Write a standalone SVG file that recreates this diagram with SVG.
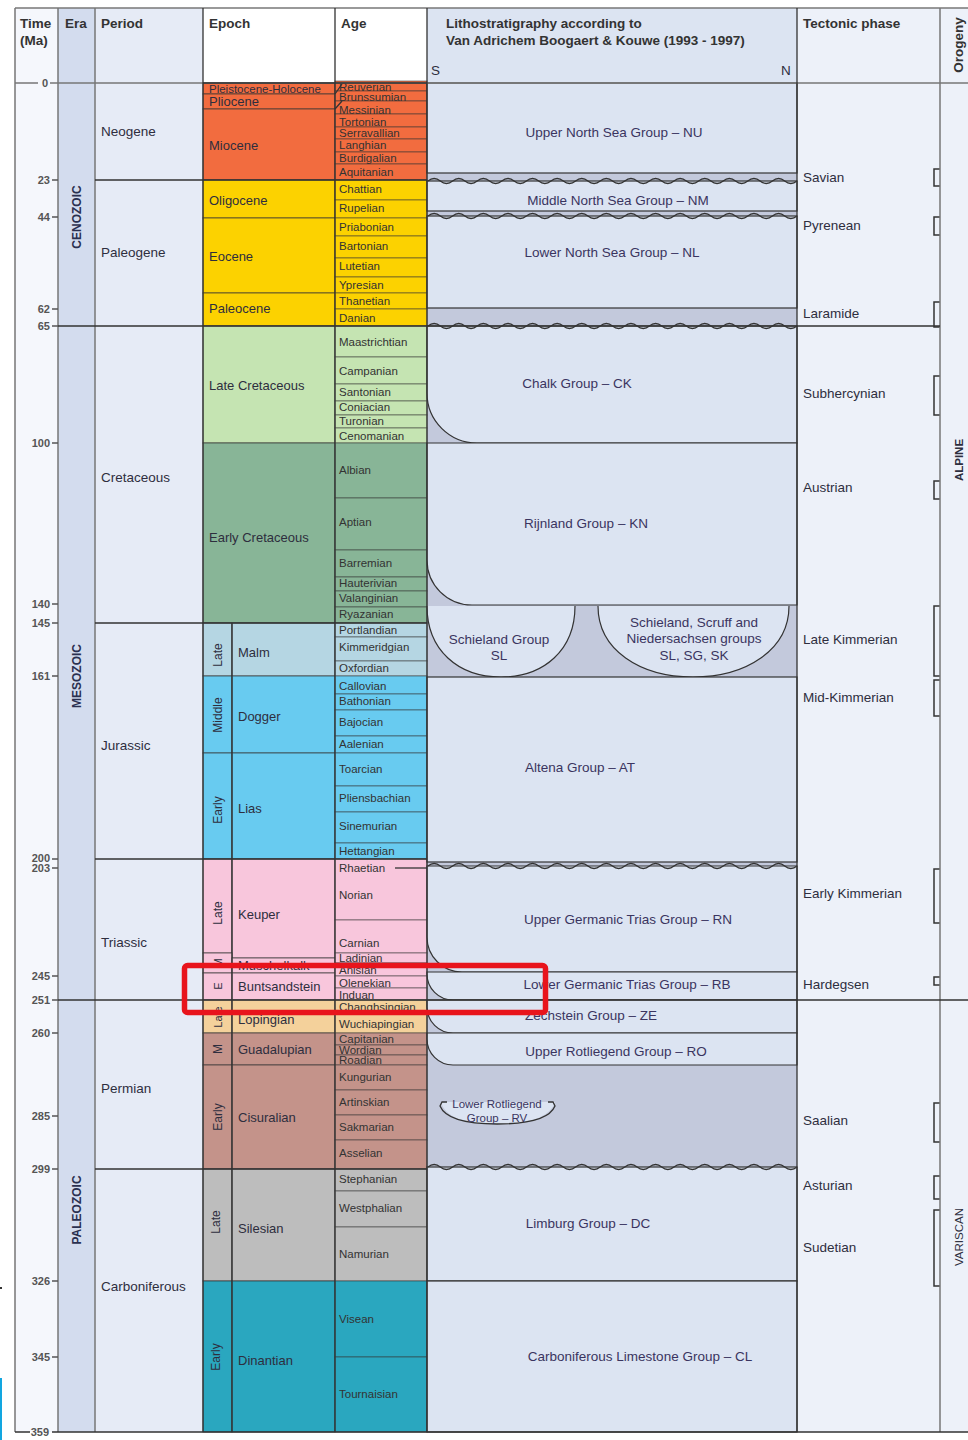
<svg xmlns="http://www.w3.org/2000/svg" width="968" height="1440" viewBox="0 0 968 1440">
<style>
text{font-family:"Liberation Sans",Arial,sans-serif;fill:#2e2e3e}
.h{font-weight:bold;font-size:13.5px;fill:#333}
.p{font-size:13.5px}
.e{font-size:13px}
.a{font-size:11.5px;fill:#333}
.l{font-size:13.5px;fill:#3a3460}
.t{font-size:13.5px}
.tk{font-size:11px;font-weight:bold;fill:#555;text-anchor:end}
.ra{font-size:12px;text-anchor:middle}
.era{font-size:12px;font-weight:bold;text-anchor:middle;fill:#2a3050}
.age{stroke:#333;stroke-opacity:0.55;stroke-width:1}
.ep{stroke:#333;stroke-opacity:0.7;stroke-width:1}
.br{fill:none;stroke:#333;stroke-width:1.5}
.wave{fill:none;stroke:#333;stroke-width:1.3}
.ln{stroke:#333;stroke-width:1.3;fill:none}
.gl{stroke:#777;stroke-width:1.5;fill:none}
.box{fill:#dce4f2;stroke:#333;stroke-width:1.2}
.c{text-anchor:middle}
</style>
<defs>
<path id="wv" d="M428,0 q6.15,-5 12.3,0 t12.3,0 t12.3,0 t12.3,0 t12.3,0 t12.3,0 t12.3,0 t12.3,0 t12.3,0 t12.3,0 t12.3,0 t12.3,0 t12.3,0 t12.3,0 t12.3,0 t12.3,0 t12.3,0 t12.3,0 t12.3,0 t12.3,0 t12.3,0 t12.3,0 t12.3,0 t12.3,0 t12.3,0 t12.3,0 t12.3,0 t12.3,0 t12.3,0 t12.3,0"/>
<clipPath id="muclip"><rect x="232" y="958" width="103" height="15"/></clipPath>
</defs>
<rect width="968" height="1440" fill="#fff"/>

<g id="columns">
<rect x="15" y="8" width="43" height="1424" fill="#f5f7fc"/>
<rect x="58" y="8" width="37" height="1424" fill="#d3dcee"/>
<rect x="95" y="8" width="108" height="1424" fill="#e6ebf6"/>
<rect x="203" y="8" width="224" height="75" fill="#fff"/>
<rect x="427" y="8" width="370" height="75" fill="#dce4f2"/>
<rect x="427" y="83" width="370" height="1349" fill="#c3c9dc"/>
<rect x="797" y="8" width="143" height="1424" fill="#edf1f9"/>
<rect x="940" y="8" width="28" height="1424" fill="#edf1f9"/>
</g>

<g id="header">
<text class="h" x="20" y="28">Time</text>
<text class="h" x="20" y="45">(Ma)</text>
<text class="h" x="65" y="28">Era</text>
<text class="h" x="101" y="28">Period</text>
<text class="h" x="209" y="28">Epoch</text>
<text class="h" x="341" y="28">Age</text>
<text class="h" x="446" y="28">Lithostratigraphy according to</text>
<text class="h" x="446" y="45">Van Adrichem Boogaert &amp; Kouwe (1993 - 1997)</text>
<text class="p" x="431" y="75">S</text>
<text class="p" x="781" y="75">N</text>
<text class="h" x="803" y="28">Tectonic phase</text>
<text class="h c" transform="translate(963,45) rotate(-90)">Orogeny</text>
</g>

<g id="era">
<text class="era" transform="translate(81,217) rotate(-90)">CENOZOIC</text>
<text class="era" transform="translate(81,676) rotate(-90)">MESOZOIC</text>
<text class="era" transform="translate(81,1210) rotate(-90)">PALEOZOIC</text>
</g>

<g id="periods">
<text class="p" x="101" y="136">Neogene</text>
<text class="p" x="101" y="257">Paleogene</text>
<text class="p" x="101" y="482">Cretaceous</text>
<text class="p" x="101" y="750">Jurassic</text>
<text class="p" x="101" y="947">Triassic</text>
<text class="p" x="101" y="1093">Permian</text>
<text class="p" x="101" y="1291">Carboniferous</text>
</g>

<g id="epochs">
<g id="ep-pleist"><rect class="ep" x="203" y="83" width="132" height="11" fill="#f26c3f"/><text x="209" y="93" style="font-size:11.5px">Pleistocene-Holocene</text></g>
<g id="ep-plio"><rect class="ep" x="203" y="94" width="132" height="15" fill="#f26c3f"/><text class="e" x="209" y="106">Pliocene</text></g>
<g id="ep-mio"><rect class="ep" x="203" y="109" width="132" height="71" fill="#f26c3f"/><text class="e" x="209" y="150">Miocene</text></g>
<g id="ep-oligo"><rect class="ep" x="203" y="180" width="132" height="38" fill="#fcd200"/><text class="e" x="209" y="205">Oligocene</text></g>
<g id="ep-eo"><rect class="ep" x="203" y="218" width="132" height="75" fill="#fcd200"/><text class="e" x="209" y="261">Eocene</text></g>
<g id="ep-paleo"><rect class="ep" x="203" y="293" width="132" height="33" fill="#fcd200"/><text class="e" x="209" y="313">Paleocene</text></g>
<g id="ep-latecret"><rect class="ep" x="203" y="326" width="132" height="117" fill="#c5e4b2"/><text class="e" x="209" y="390">Late Cretaceous</text></g>
<g id="ep-earlycret"><rect class="ep" x="203" y="443" width="132" height="180" fill="#88b597"/><text class="e" x="209" y="542">Early Cretaceous</text></g>
<g id="ep-malm"><rect class="ep" x="203" y="623" width="29" height="53" fill="#b5d6e3"/><rect class="ep" x="232" y="623" width="103" height="53" fill="#b5d6e3"/><text class="ra" transform="translate(222,655) rotate(-90)">Late</text><text class="e" x="238" y="657">Malm</text></g>
<g id="ep-dogger"><rect class="ep" x="203" y="676" width="29" height="77" fill="#68cbf0"/><rect class="ep" x="232" y="676" width="103" height="77" fill="#68cbf0"/><text class="ra" transform="translate(222,715) rotate(-90)">Middle</text><text class="e" x="238" y="721">Dogger</text></g>
<g id="ep-lias"><rect class="ep" x="203" y="753" width="29" height="106" fill="#68cbf0"/><rect class="ep" x="232" y="753" width="103" height="106" fill="#68cbf0"/><text class="ra" transform="translate(222,810) rotate(-90)">Early</text><text class="e" x="238" y="813">Lias</text></g>
<g id="ep-keuper"><rect class="ep" x="203" y="859" width="29" height="94" fill="#f8c6dc"/><rect class="ep" x="232" y="859" width="103" height="99" fill="#f8c6dc"/><text class="ra" transform="translate(222,913) rotate(-90)">Late</text><text class="e" x="238" y="919">Keuper</text></g>
<g id="ep-musch"><rect class="ep" x="203" y="953" width="29" height="20" fill="#f8c6dc"/><rect class="ep" x="232" y="958" width="103" height="15" fill="#f8c6dc"/><text class="ra" transform="translate(222,963) rotate(-90)" style="font-size:11px">M</text><text class="e" x="238" y="970" clip-path="url(#muclip)">Muschelkalk</text></g>
<g id="ep-bunt"><rect class="ep" x="203" y="973" width="29" height="27" fill="#f8c6dc"/><rect class="ep" x="232" y="973" width="103" height="27" fill="#f8c6dc"/><text class="ra" transform="translate(222,986) rotate(-90)" style="font-size:11px">E</text><text class="e" x="238" y="991">Buntsandstein</text></g>
<g id="ep-loping"><rect class="ep" x="203" y="1000" width="29" height="33" fill="#f4d19b"/><rect class="ep" x="232" y="1000" width="103" height="33" fill="#f4d19b"/><text class="ra" transform="translate(222,1017) rotate(-90)" style="font-size:11px">Late</text><text class="e" x="238" y="1024">Lopingian</text></g>
<g id="ep-guad"><rect class="ep" x="203" y="1033" width="29" height="32" fill="#c4938a"/><rect class="ep" x="232" y="1033" width="103" height="32" fill="#c4938a"/><text class="ra" transform="translate(222,1049) rotate(-90)">M</text><text class="e" x="238" y="1054">Guadalupian</text></g>
<g id="ep-cisu"><rect class="ep" x="203" y="1065" width="29" height="104" fill="#c4938a"/><rect class="ep" x="232" y="1065" width="103" height="104" fill="#c4938a"/><text class="ra" transform="translate(222,1117) rotate(-90)">Early</text><text class="e" x="238" y="1122">Cisuralian</text></g>
<g id="ep-siles"><rect class="ep" x="203" y="1169" width="29" height="112" fill="#bdbdbd"/><rect class="ep" x="232" y="1169" width="103" height="112" fill="#bdbdbd"/><text class="ra" transform="translate(220,1222) rotate(-90)">Late</text><text class="e" x="238" y="1233">Silesian</text></g>
<g id="ep-dinant"><rect class="ep" x="203" y="1281" width="29" height="151" fill="#2aa7bf"/><rect class="ep" x="232" y="1281" width="103" height="151" fill="#2aa7bf"/><text class="ra" transform="translate(220,1357) rotate(-90)">Early</text><text class="e" x="238" y="1365">Dinantian</text></g>
</g>

<g id="ages">
<g fill="#f26c3f">
<rect class="age" x="335" y="81" width="92" height="10"/><rect class="age" x="335" y="91" width="92" height="10"/><rect class="age" x="335" y="101" width="92" height="13"/><rect class="age" x="335" y="114" width="92" height="13"/><rect class="age" x="335" y="127" width="92" height="12"/><rect class="age" x="335" y="139" width="92" height="13"/><rect class="age" x="335" y="152" width="92" height="12"/><rect class="age" x="335" y="164" width="92" height="16"/>
</g>
<text class="a" x="339" y="91">Reuverian</text><text class="a" x="339" y="101">Brunssumian</text><text class="a" x="339" y="114">Messinian</text><text class="a" x="339" y="126">Tortonian</text><text class="a" x="339" y="137">Serravallian</text><text class="a" x="339" y="149">Langhian</text><text class="a" x="339" y="162">Burdigalian</text><text class="a" x="339" y="176">Aquitanian</text>
<g fill="#fcd200">
<rect class="age" x="335" y="180" width="92" height="20"/><rect class="age" x="335" y="200" width="92" height="18"/><rect class="age" x="335" y="218" width="92" height="18"/><rect class="age" x="335" y="236" width="92" height="22"/><rect class="age" x="335" y="258" width="92" height="19"/><rect class="age" x="335" y="277" width="92" height="16"/><rect class="age" x="335" y="293" width="92" height="16"/><rect class="age" x="335" y="309" width="92" height="17"/>
</g>
<text class="a" x="339" y="193">Chattian</text><text class="a" x="339" y="212">Rupelian</text><text class="a" x="339" y="231">Priabonian</text><text class="a" x="339" y="250">Bartonian</text><text class="a" x="339" y="270">Lutetian</text><text class="a" x="339" y="289">Ypresian</text><text class="a" x="339" y="305">Thanetian</text><text class="a" x="339" y="322">Danian</text>
<g fill="#c5e4b2">
<rect class="age" x="335" y="326" width="92" height="31"/><rect class="age" x="335" y="357" width="92" height="27"/><rect class="age" x="335" y="384" width="92" height="17"/><rect class="age" x="335" y="401" width="92" height="14"/><rect class="age" x="335" y="415" width="92" height="13"/><rect class="age" x="335" y="428" width="92" height="15"/>
</g>
<text class="a" x="339" y="346">Maastrichtian</text><text class="a" x="339" y="375">Campanian</text><text class="a" x="339" y="396">Santonian</text><text class="a" x="339" y="411">Coniacian</text><text class="a" x="339" y="425">Turonian</text><text class="a" x="339" y="440">Cenomanian</text>
<g fill="#88b597">
<rect class="age" x="335" y="443" width="92" height="55"/><rect class="age" x="335" y="498" width="92" height="52"/><rect class="age" x="335" y="550" width="92" height="27"/><rect class="age" x="335" y="577" width="92" height="14"/><rect class="age" x="335" y="591" width="92" height="16"/><rect class="age" x="335" y="607" width="92" height="16"/>
</g>
<text class="a" x="339" y="474">Albian</text><text class="a" x="339" y="526">Aptian</text><text class="a" x="339" y="567">Barremian</text><text class="a" x="339" y="587">Hauterivian</text><text class="a" x="339" y="602">Valanginian</text><text class="a" x="339" y="618">Ryazanian</text>
<g fill="#b5d6e3">
<rect class="age" x="335" y="623" width="92" height="14"/><rect class="age" x="335" y="637" width="92" height="24"/><rect class="age" x="335" y="661" width="92" height="15"/>
</g>
<text class="a" x="339" y="634">Portlandian</text><text class="a" x="339" y="651">Kimmeridgian</text><text class="a" x="339" y="672">Oxfordian</text>
<g fill="#68cbf0">
<rect class="age" x="335" y="676" width="92" height="18"/><rect class="age" x="335" y="694" width="92" height="16"/><rect class="age" x="335" y="710" width="92" height="26"/><rect class="age" x="335" y="736" width="92" height="17"/><rect class="age" x="335" y="753" width="92" height="33"/><rect class="age" x="335" y="786" width="92" height="26"/><rect class="age" x="335" y="812" width="92" height="31"/><rect class="age" x="335" y="843" width="92" height="16"/>
</g>
<text class="a" x="339" y="690">Callovian</text><text class="a" x="339" y="705">Bathonian</text><text class="a" x="339" y="726">Bajocian</text><text class="a" x="339" y="748">Aalenian</text><text class="a" x="339" y="773">Toarcian</text><text class="a" x="339" y="802">Pliensbachian</text><text class="a" x="339" y="830">Sinemurian</text><text class="a" x="339" y="855">Hettangian</text>
<g fill="#f8c6dc">
<rect class="age" x="335" y="859" width="92" height="61"/><rect class="age" x="335" y="920" width="92" height="33"/><rect class="age" x="335" y="953" width="92" height="10"/><rect class="age" x="335" y="963" width="92" height="13"/><rect class="age" x="335" y="976" width="92" height="12"/><rect class="age" x="335" y="988" width="92" height="12"/>
</g>
<text class="a" x="339" y="872">Rhaetian</text><line class="ln" x1="395" y1="868" x2="427" y2="868"/><text class="a" x="339" y="899">Norian</text><text class="a" x="339" y="947">Carnian</text><text class="a" x="339" y="962">Ladinian</text><text class="a" x="339" y="974">Anisian</text><text class="a" x="339" y="987">Olenekian</text><text class="a" x="339" y="999">Induan</text>
<g fill="#f4d19b">
<rect class="age" x="335" y="1000" width="92" height="13"/><rect class="age" x="335" y="1013" width="92" height="20"/>
</g>
<g fill="#c4938a">
<rect class="age" x="335" y="1033" width="92" height="12"/><rect class="age" x="335" y="1045" width="92" height="10"/><rect class="age" x="335" y="1055" width="92" height="10"/><rect class="age" x="335" y="1065" width="92" height="25"/><rect class="age" x="335" y="1090" width="92" height="25"/><rect class="age" x="335" y="1115" width="92" height="25"/><rect class="age" x="335" y="1140" width="92" height="29"/>
</g>
<text class="a" x="339" y="1011">Changhsingian</text><text class="a" x="339" y="1028">Wuchiapingian</text><text class="a" x="339" y="1043">Capitanian</text><text class="a" x="339" y="1054">Wordian</text><text class="a" x="339" y="1064">Roadian</text><text class="a" x="339" y="1081">Kungurian</text><text class="a" x="339" y="1106">Artinskian</text><text class="a" x="339" y="1131">Sakmarian</text><text class="a" x="339" y="1157">Asselian</text>
<g fill="#bdbdbd">
<rect class="age" x="335" y="1169" width="92" height="22"/><rect class="age" x="335" y="1191" width="92" height="36"/><rect class="age" x="335" y="1227" width="92" height="54"/>
</g>
<text class="a" x="339" y="1183">Stephanian</text><text class="a" x="339" y="1212">Westphalian</text><text class="a" x="339" y="1258">Namurian</text>
<g fill="#2aa7bf">
<rect class="age" x="335" y="1281" width="92" height="76"/><rect class="age" x="335" y="1357" width="92" height="75"/>
</g>
<text class="a" x="339" y="1323">Visean</text><text class="a" x="339" y="1398">Tournaisian</text>
<path class="ln" d="M335,94 L342,84 M335,109 L342,101"/>
</g>

<g id="litho">
<g id="nu"><rect class="box" x="427" y="83" width="370" height="90"/><text class="l c" x="614" y="137">Upper North Sea Group – NU</text></g>
<g id="nm"><rect class="box" x="427" y="181" width="370" height="30"/><use href="#wv" y="181" class="wave"/><text class="l c" x="618" y="205">Middle North Sea Group – NM</text></g>
<g id="nl"><rect class="box" x="427" y="216" width="370" height="92"/><use href="#wv" y="216" class="wave"/><text class="l c" x="612" y="257">Lower North Sea Group – NL</text></g>
<g id="ck"><path class="box" d="M427,326 H797 V443 H477 A50,50 0 0 1 427,393 Z"/><use href="#wv" y="326" class="wave"/><text class="l c" x="577" y="388">Chalk Group – CK</text></g>
<g id="kn"><path class="box" d="M427,443 H797 V605 H472 A45,45 0 0 1 427,560 Z"/><text class="l c" x="586" y="528">Rijnland Group – KN</text></g>
<g id="sl"><path class="box" d="M427,606 C427,650 458,677 501,677 C544,677 575,650 575,606"/><text class="l c" x="499" y="644">Schieland Group</text><text class="l c" x="499" y="660">SL</text></g>
<g id="sg"><path class="box" d="M598,606 C598,650 640,677 693,677 C746,677 789,650 789,606"/><text class="l c" x="694" y="627">Schieland, Scruff and</text><text class="l c" x="694" y="643">Niedersachsen  groups</text><text class="l c" x="694" y="660">SL, SG, SK</text></g>
<g id="at"><rect class="box" x="427" y="677" width="370" height="185"/><text class="l c" x="580" y="772">Altena Group – AT</text></g>
<g id="rn"><path class="box" d="M427,866 H797 V972 H462 A35,35 0 0 1 427,937 Z"/><use href="#wv" y="866" class="wave"/><text class="l c" x="628" y="924">Upper Germanic Trias Group – RN</text></g>
<g id="rb"><path class="box" d="M427,972 H797 V1000 H453 A26,26 0 0 1 427,974 Z"/><text class="l c" x="627" y="989">Lower Germanic Trias Group – RB</text></g>
<g id="ze"><path class="box" d="M427,1000 H797 V1033 H453 A26,26 0 0 1 427,1007 Z"/><text class="l c" x="591" y="1020">Zechstein Group – ZE</text></g>
<g id="ro"><path class="box" d="M427,1033 H797 V1065 H453 A26,26 0 0 1 427,1039 Z"/><text class="l c" x="616" y="1056">Upper Rotliegend Group – RO</text></g>
<g id="rv"><path d="M441,1102 H555 C550,1117 530,1124 497,1124 C464,1124 445,1117 441,1102 Z" fill="#dce4f2"/><path class="ln" d="M447,1102 H442 L440,1106 C445,1118 464,1124 497,1124 C530,1124 550,1118 555,1106 L553,1102 H548"/><text class="l c" x="497" y="1108" style="font-size:11.5px">Lower Rotliegend</text><text class="l c" x="497" y="1122" style="font-size:11.5px">Group – RV</text></g>
<g id="dc"><rect class="box" x="427" y="1167" width="370" height="114"/><use href="#wv" y="1167" class="wave"/><text class="l c" x="588" y="1228">Limburg Group – DC</text></g>
<g id="cl"><rect class="box" x="427" y="1281" width="370" height="151"/><text class="l c" x="640" y="1361">Carboniferous Limestone Group – CL</text></g>
</g>

<g id="tectonic">
<text class="t" x="803" y="182">Savian</text>
<text class="t" x="803" y="230">Pyrenean</text>
<text class="t" x="803" y="318">Laramide</text>
<text class="t" x="803" y="398">Subhercynian</text>
<text class="t" x="803" y="492">Austrian</text>
<text class="t" x="803" y="644">Late Kimmerian</text>
<text class="t" x="803" y="702">Mid-Kimmerian</text>
<text class="t" x="803" y="898">Early Kimmerian</text>
<text class="t" x="803" y="989">Hardegsen</text>
<text class="t" x="803" y="1125">Saalian</text>
<text class="t" x="803" y="1190">Asturian</text>
<text class="t" x="803" y="1252">Sudetian</text>
<path class="br" d="M940,169 H934 V186 H940 M940,217 H934 V235 H940 M940,302 H934 V327 H940 M940,376 H934 V415 H940 M940,481 H934 V499 H940 M940,606 H934 V676 H940 M940,680 H934 V716 H940 M940,869 H934 V923 H940 M940,977 H934 V985 H940 M940,1103 H934 V1142 H940 M940,1176 H934 V1199 H940 M940,1210 H934 V1286 H940"/>
</g>

<g id="orogeny">
<text class="ra" transform="translate(963,460) rotate(-90)" style="font-weight:bold;font-size:11.5px">ALPINE</text>
<text class="ra" transform="translate(963,1237) rotate(-90)" style="font-size:11.5px">VARISCAN</text>
</g>

<g id="connectors">
<path class="gl" d="M15,8 H968"/>
<path class="gl" d="M15,83 H38 M50,83 H968"/>
<path class="gl" d="M15,8 V1432 M58,8 V1432 M95,8 V1432 M940,8 V1432"/>
<path class="ln" d="M203,8 V1432 M335,8 V1432 M427,8 V1432 M797,8 V1432"/>
<path class="ln" d="M95,180 H427 M58,326 H940 M95,623 H427 M95,859 H427 M58,1000 H968 M95,1169 H427 M232,623 V1432"/>
<path class="ln" d="M15,1432 H30 M52,1432 H968"/>
<path class="ln" d="M203,83 H427"/>
<g stroke="#555" stroke-width="1.3">
<path d="M52,180 H58 M52,217 H58 M52,309 H58 M52,326 H58 M52,443 H58 M52,604 H58 M52,623 H58 M52,676 H58 M52,859 H58 M52,868 H58 M52,976 H58 M52,1000 H58 M52,1033 H58 M52,1116 H58 M52,1169 H58 M52,1281 H58 M52,1357 H58"/>
</g>
</g>
<g id="ticks">
<text class="tk" x="48" y="87">0</text>
<text class="tk" x="50" y="184">23</text>
<text class="tk" x="50" y="221">44</text>
<text class="tk" x="50" y="313">62</text>
<text class="tk" x="50" y="330">65</text>
<text class="tk" x="50" y="447">100</text>
<text class="tk" x="50" y="608">140</text>
<text class="tk" x="50" y="627">145</text>
<text class="tk" x="50" y="680">161</text>
<text class="tk" x="50" y="862">200</text>
<text class="tk" x="50" y="872">203</text>
<text class="tk" x="50" y="980">245</text>
<text class="tk" x="50" y="1004">251</text>
<text class="tk" x="50" y="1037">260</text>
<text class="tk" x="50" y="1120">285</text>
<text class="tk" x="50" y="1173">299</text>
<text class="tk" x="50" y="1285">326</text>
<text class="tk" x="50" y="1361">345</text>
<text class="tk" x="49" y="1436">359</text>
</g>

<rect x="0" y="1378" width="2" height="62" fill="#12a6e0"/>
<rect x="0" y="1287" width="2" height="2" fill="#333"/>
<rect id="highlight" x="184.5" y="965.5" width="361" height="47" rx="3" fill="none" stroke="#e8141c" stroke-width="5.5"/>
</svg>
